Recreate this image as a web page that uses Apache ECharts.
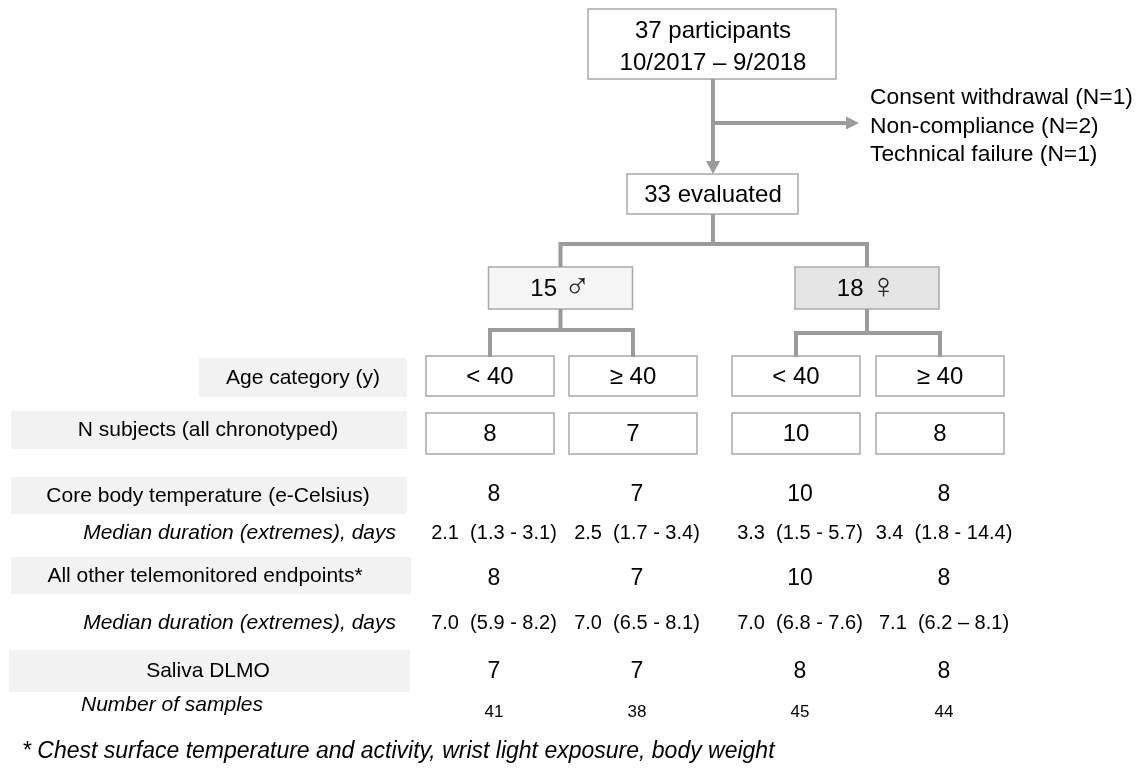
<!DOCTYPE html>
<html><head><meta charset="utf-8">
<script src="https://cdn.jsdelivr.net/npm/echarts@6/dist/echarts.min.js"></script>
<style>html,body{margin:0;padding:0;background:#fff}#c{width:1139px;height:769px}</style>
</head><body><div id="c"></div>
<script>
// ---------------- data ----------------
const enrolledLines = ['37 participants', '10/2017 – 9/2018'];
const exclusions = ['Consent withdrawal (N=1)', 'Non-compliance (N=2)', 'Technical failure (N=1)'];
const evaluatedLabel = '33 evaluated';
const sexCounts = [15, 18];
const sexSymbols = ['♂', '♀'];
const ageLabels = ['< 40', '≥ 40', '< 40', '≥ 40'];
const nSubjects = [8, 7, 10, 8];
const coreTempN = [8, 7, 10, 8];
const coreTempDuration = ['2.1  (1.3 - 3.1)', '2.5  (1.7 - 3.4)', '3.3  (1.5 - 5.7)', '3.4  (1.8 - 14.4)'];
const otherN = [8, 7, 10, 8];
const otherDuration = ['7.0  (5.9 - 8.2)', '7.0  (6.5 - 8.1)', '7.0  (6.8 - 7.6)', '7.1  (6.2 – 8.1)'];
const salivaN = [7, 7, 8, 8];
const salivaSamples = [41, 38, 45, 44];
const rowLabels = ['Age category (y)', 'N subjects (all chronotyped)', 'Core body temperature (e-Celsius)',
  'All other telemonitored endpoints*', 'Saliva DLMO'];
const subLabels = ['Median duration (extremes), days', 'Median duration (extremes), days', 'Number of samples'];
const footnote = '* Chest surface temperature and activity, wrist light exposure, body weight';

// ---------------- layout ----------------
const FONT = '"Liberation Sans", Arial, "DejaVu Sans", sans-serif';
const LINE = '#9b9b9b', BORDER = '#a9a9a9';
const spineX = 713;
const boxCols = [490, 633, 796, 940];     // centres of the four group boxes
const dataCols = [494, 637, 800, 944];    // centres of the value columns
const sexCols = [560.5, 867];

const rects = [], texts = [], lines = [], arrows = [];
function box(x0, y0, x1, y1, fill, stroke) { rects.push({x0, y0, x1, y1, fill, stroke}); }
function txt(x, y, text, size, opt) { texts.push(Object.assign({x, y, text: String(text), size, align: 'center', italic: false}, opt || {})); }

// enrolment box
box(588, 9, 836, 79, '#fff', BORDER);
enrolledLines.forEach((t, i) => txt(spineX, 31 + i * 32, t, 24));
// spine + arrow to evaluated
lines.push([[spineX, 79], [spineX, 163]]);
arrows.push([[spineX - 7, 161], [spineX + 7, 161], [spineX, 174]]);
// exclusion branch
lines.push([[spineX, 123], [848, 123]]);
arrows.push([[846, 116.5], [846, 129.5], [859, 123]]);
exclusions.forEach((t, i) => txt(870, 98 + i * 28.5, t, 22.8, {align: 'left'}));
// evaluated
box(627, 174, 798, 214, '#fff', BORDER);
txt(spineX, 195, evaluatedLabel, 24);
lines.push([[spineX, 214], [spineX, 244]]);
lines.push([[sexCols[0], 267], [sexCols[0], 244], [sexCols[1], 244], [sexCols[1], 267]]);
// sex boxes
const sexFill = ['#f5f5f5', '#e5e5e5'];
sexCols.forEach((cx, i) => {
  box(cx - 72, 267, cx + 72, 309, sexFill[i], BORDER);
  txt(cx, 289, sexCounts[i] + ' {s|' + sexSymbols[i] + '}', 24, {rich: true});
});
const subY = [330, 333];
sexCols.forEach((cx, i) => {
  const a = boxCols[2 * i], b = boxCols[2 * i + 1];
  lines.push([[cx, 309], [cx, subY[i]]]);
  lines.push([[a, 357], [a, subY[i]], [b, subY[i]], [b, 357]]);
});
// age + N boxes
boxCols.forEach((cx, i) => {
  box(cx - 64, 356, cx + 64, 396, '#fff', BORDER);
  txt(cx, 377, ageLabels[i], 24);
  box(cx - 64, 413, cx + 64, 454, '#fff', BORDER);
  txt(cx, 434, nSubjects[i], 24);
});
// left labels
const LBL = '#f2f2f2';
box(199, 358, 407, 397, LBL, null); txt(303, 378, rowLabels[0], 21);
box(11, 411, 407, 449, LBL, null);  txt(208, 430, rowLabels[1], 21);
box(11, 477, 407, 514, LBL, null);  txt(208, 496, rowLabels[2], 21);
box(11, 557, 411, 594, LBL, null);  txt(205, 576, rowLabels[3], 21);
box(9, 650, 410, 692, LBL, null);   txt(208, 671, rowLabels[4], 21);
txt(396, 533, subLabels[0], 21, {align: 'right', italic: true});
txt(396, 623, subLabels[1], 21, {align: 'right', italic: true});
txt(172, 705, subLabels[2], 21, {italic: true});
// values
dataCols.forEach((cx, i) => {
  txt(cx, 495, coreTempN[i], 23);
  txt(cx, 533, coreTempDuration[i], 20);
  txt(cx, 579, otherN[i], 23);
  txt(cx, 623, otherDuration[i], 20);
  txt(cx, 672, salivaN[i], 23);
  txt(cx, 712, salivaSamples[i], 17);
});
txt(22, 752, footnote, 23, {align: 'left', italic: true});

// ---------------- chart ----------------
const chart = echarts.init(document.getElementById('c'), null, {renderer: 'canvas'});
const idx = arr => arr.map((_, i) => [i, i]);
chart.setOption({
  animation: false,
  backgroundColor: '#fff',
  grid: {left: 0, right: 0, top: 0, bottom: 0},
  xAxis: {type: 'value', min: 0, max: 1139, show: false},
  yAxis: {type: 'value', min: 0, max: 769, inverse: true, show: false},
  tooltip: {show: false},
  series: [
    {type: 'custom', silent: true, clip: false, data: idx(rects),
      renderItem: (p, api) => {
        const r = rects[p.dataIndex];
        const a = api.coord([r.x0, r.y0]), b = api.coord([r.x1, r.y1]);
        return {type: 'rect', shape: {x: a[0], y: a[1], width: b[0] - a[0], height: b[1] - a[1]},
          style: {fill: r.fill, stroke: r.stroke || null, lineWidth: r.stroke ? 1.5 : 0}};
      }},
    {type: 'custom', silent: true, clip: false, data: idx(lines),
      renderItem: (p, api) => ({type: 'polyline',
        shape: {points: lines[p.dataIndex].map(pt => api.coord(pt))},
        style: {stroke: LINE, lineWidth: 4, fill: null, lineJoin: 'miter'}})},
    {type: 'custom', silent: true, clip: false, data: idx(arrows),
      renderItem: (p, api) => ({type: 'polygon',
        shape: {points: arrows[p.dataIndex].map(pt => api.coord(pt))},
        style: {fill: LINE}})},
    {type: 'custom', silent: true, clip: false, data: idx(texts),
      renderItem: (p, api) => {
        const t = texts[p.dataIndex];
        const c = api.coord([t.x, t.y]);
        const style = {text: t.text, fill: '#000', align: t.align, verticalAlign: 'middle',
          font: (t.italic ? 'italic ' : '') + t.size + 'px ' + FONT};
        if (t.rich) {
          style.rich = {s: {fontFamily: '"DejaVu Sans", sans-serif', fontSize: 36, fontWeight: 200,
            fill: '#222', verticalAlign: 'middle', lineHeight: 36}};
        }
        return {type: 'text', x: c[0], y: c[1], style};
      }}
  ]
});
</script></body></html>
